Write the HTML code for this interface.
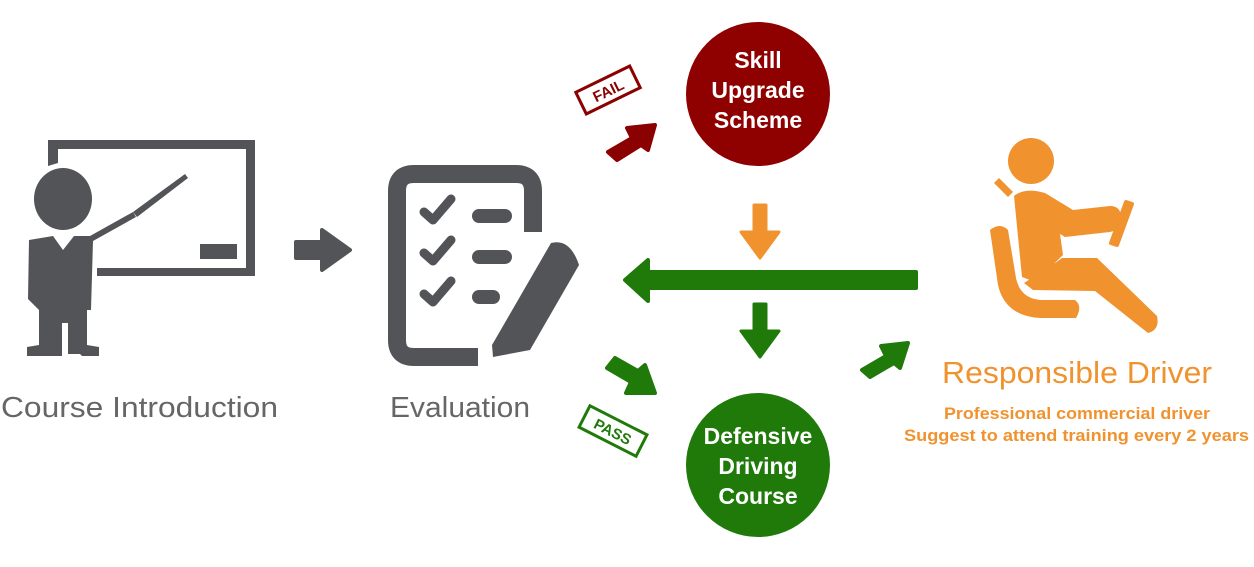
<!DOCTYPE html>
<html><head><meta charset="utf-8"><style>
html,body{margin:0;padding:0;background:#fff}
svg{display:block}
text{font-family:"Liberation Sans",sans-serif}
</style></head><body>
<svg width="1254" height="567" viewBox="0 0 1254 567" xmlns="http://www.w3.org/2000/svg">
<!-- Teacher -->
<g fill="#535458">
<path d="M48 140 H255 V276 H97 V268 H246 V149 H58 V163 L48 166 Z"/>
<rect x="200" y="244" width="37" height="15"/>
<ellipse cx="63" cy="199" rx="29" ry="31"/>
<path d="M29 240 L53 236 L63 250 L74 236 L90 236 L133 212 L136 217 L93 241 L91 310 L87 310 L87 345 L99 347 L99 356 L82 356 L80 354 L68 354 L68 323 L62 323 L62 356 L40 356 L27 356 L27 347 L39 345 L39 310 L28 299 Z"/>
<path d="M133 212 L185 174 L188 178 L137 217 Z"/>
</g>
<!-- gray arrow -->
<path d="M296 242 H322 V230 L350 250 L322 270 V258 H296 Z" fill="#535458" stroke="#535458" stroke-width="4" stroke-linejoin="round"/>
<!-- Evaluation icon -->
<g fill="none" stroke="#535458" stroke-width="18" stroke-linejoin="round">
<path d="M478 357 H414 Q397 357 397 340 V191 Q397 174 414 174 H516 Q533 174 533 191 V232"/>
</g>
<g fill="none" stroke="#535458" stroke-width="9" stroke-linecap="round" stroke-linejoin="round">
<path d="M424 212 L433 220 L451 199"/><path d="M424 253 L433 261 L451 240"/><path d="M424 294 L433 302 L451 281"/>
</g>
<g stroke="#535458" stroke-width="14" stroke-linecap="round">
<line x1="479" y1="216" x2="505" y2="216"/><line x1="479" y1="257" x2="505" y2="257"/><line x1="479" y1="297" x2="493" y2="297"/>
</g>
<path d="M551 243 Q570 238 579 265 L530 350 L493 357 L492 345 Z" fill="#535458"/>
<!-- FAIL stamp -->
<g transform="translate(608,90) rotate(-26)">
<rect x="-30" y="-12" width="60" height="24" fill="none" stroke="#8b0000" stroke-width="3"/>
<text x="0" y="6" text-anchor="middle" font-size="15" font-weight="bold" fill="#8b0000">FAIL</text>
</g>
<!-- red arrow -->
<path d="M608 152 L632 138 L627 128 L655 125 L648 150 L641 145 L617 160 Z" fill="#8b0000" stroke="#8b0000" stroke-width="4" stroke-linejoin="round"/>
<!-- circles -->
<circle cx="758" cy="94" r="72" fill="#8f0000"/>
<text font-size="23" font-weight="bold" fill="#fff" text-anchor="middle"><tspan x="758" y="68">Skill</tspan><tspan x="758" y="98">Upgrade</tspan><tspan x="758" y="128">Scheme</tspan></text>
<circle cx="758" cy="465" r="72" fill="#1f7a0a"/>
<text font-size="23" font-weight="bold" fill="#fff" text-anchor="middle"><tspan x="758" y="444">Defensive</tspan><tspan x="758" y="474">Driving</tspan><tspan x="758" y="504">Course</tspan></text>
<!-- orange down -->
<path d="M754 205 H766 V232 H779 L760 258 L741 232 H754 Z" fill="#f0922e" stroke="#f0922e" stroke-width="3" stroke-linejoin="round"/>
<!-- green horizontal -->
<path d="M916 272 V288 H648 V301 L625 280 L648 260 V272 Z" fill="#1f7a0a" stroke="#1f7a0a" stroke-width="4" stroke-linejoin="round"/>
<!-- green down -->
<path d="M754 304 H766 V331 H779 L760 357 L741 331 H754 Z" fill="#1f7a0a" stroke="#1f7a0a" stroke-width="3" stroke-linejoin="round"/>
<!-- pass arrow -->
<path d="M607 368 L631 382 L626 393 L655 393 L645 365 L638 371 L615 358 Z" fill="#1f7a0a" stroke="#1f7a0a" stroke-width="4" stroke-linejoin="round"/>
<g transform="translate(613,431) rotate(27)">
<rect x="-32" y="-12" width="64" height="24" fill="none" stroke="#1f7a0a" stroke-width="3"/>
<text x="0" y="6" text-anchor="middle" font-size="15" font-weight="bold" fill="#1f7a0a">PASS</text>
</g>
<!-- right green arrow -->
<path d="M862 370 L886 356 L881 346 L908 343 L900 368 L894 363 L870 377 Z" fill="#1f7a0a" stroke="#1f7a0a" stroke-width="4" stroke-linejoin="round"/>
<!-- driver -->
<g fill="#f0922e">
<circle cx="1031" cy="161" r="23"/>
<path d="M994 183 L999 178 L1013 192 L1008 197 Z"/>
<path d="M1014 196 Q1025 187 1045 193 L1073 210 L1110 206 Q1122 206 1121 220 Q1120 230 1110 232 L1065 237 L1060 234 L1063 255 L1035 282 L1022 277 Z"/>
<path d="M1062 258 L1097 258 L1157 316 Q1160 330 1148 333 L1095 291 L1033 290 L1024 283 L1058 261 Z"/>
<path d="M1126 202 L1132 204 L1117 245 L1111 243 Z" stroke="#f0922e" stroke-width="4" stroke-linejoin="round"/>
<path d="M990 230 Q1000 222 1008 230 L1016 278 Q1020 298 1040 300 L1075 300 Q1083 306 1076 318 L1040 318 Q1005 316 998 285 Z"/>
</g>
<!-- labels -->
<text x="1" y="417" font-size="29" fill="#666" textLength="277" lengthAdjust="spacingAndGlyphs">Course Introduction</text>
<text x="390" y="417" font-size="29" fill="#666" textLength="140" lengthAdjust="spacingAndGlyphs">Evaluation</text>
<text x="942" y="383" font-size="31" fill="#f0922e" textLength="270" lengthAdjust="spacingAndGlyphs">Responsible Driver</text>
<text x="944" y="419" font-size="17" font-weight="bold" fill="#f0922e" textLength="266" lengthAdjust="spacingAndGlyphs">Professional commercial driver</text>
<text x="904" y="441" font-size="17" font-weight="bold" fill="#f0922e" textLength="345" lengthAdjust="spacingAndGlyphs">Suggest to attend training every 2 years</text>
</svg>
</body></html>
